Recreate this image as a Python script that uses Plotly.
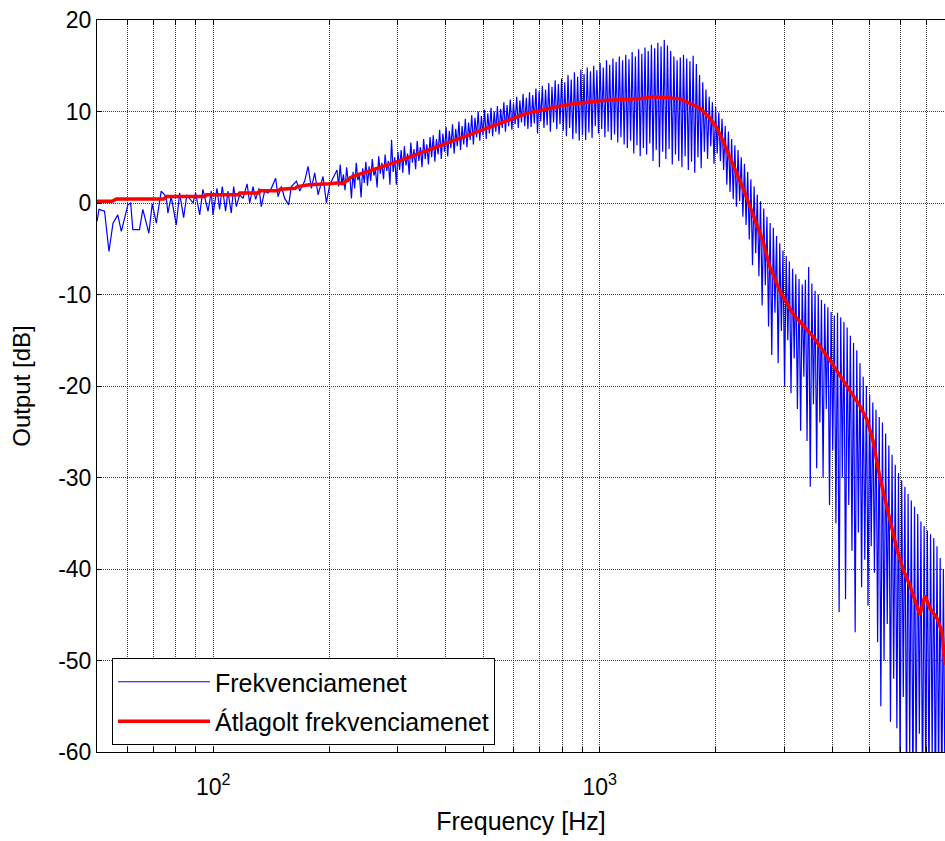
import numpy as np
import plotly.graph_objects as go

# ---------------- data ----------------
# measured response, low-frequency part (explicit points)
low_freq_hz = [50.0, 50.6, 52.3, 53.7, 55.0, 56.6, 57.8, 60.1, 61.1, 61.9,
               64.4, 65.7, 68.1, 69.5, 71.2, 73.3, 75.5, 76.3, 77.8, 80.2,
               81.8, 83.8, 85.4, 88.6, 90.0, 92.2, 94.0, 96.9, 98.8, 99.8,
               102.2, 103.8, 105.5, 107.6, 109.1, 111.3, 112.9, 114.7, 117.0, 119.4,
               122.3, 124.2, 126.7, 128.7, 131.3, 133.1, 135.8, 138.5, 141.3, 145.0,
               147.1, 150.0, 153.0, 156.7, 159.2, 164.1, 167.4, 172.4, 175.9, 179.4,
               183.0, 186.7, 192.3, 196.2, 200.1, 206.2]
low_db = [-2.0, -0.7, -0.9, -5.3, -2.2, -1.3, -3.1, -0.2, 0.0, -2.9,
          -2.9, -0.7, -3.3, -0.1, -2.2, 1.3, 0.7, -1.1, 0.7, -2.4,
          1.1, -1.6, 0.9, 0.0, 1.1, -1.3, 1.5, -0.9, 1.3, -1.3,
          1.6, -0.7, 1.8, -0.9, 1.3, -1.1, 1.8, -0.4, 0.9, 0.5,
          2.1, 0.0, 1.8, 0.4, 1.6, -0.4, 1.3, 1.1, 1.6, 2.7,
          0.7, 1.8, 0.5, -0.2, 1.8, 2.4, 1.3, 2.4, 4.0, 1.6,
          3.3, 0.9, 2.9, 0.0, 2.0, 3.1]

# measured response, dense part on the analyser's log frequency grid
dense_start_hz = 209.0
dense_stop_hz = 7830.0
dense_db = [
    3.6, 1.8, 4.2, 2.0, 3.1, 1.4, 3.9, 2.3, 2.9, 0.5, 3.4, 1.6, 4.4, 2.5, 3.0, 0.6, 3.8, 2.2, 4.5, 1.9,
    4.0, 2.4, 4.8, 3.0, 3.6, 1.7, 5.1, 3.2, 4.4, 2.6, 5.3, 3.5, 4.6, 2.0, 6.9, 3.4, 5.0, 2.0, 5.6, 3.6,
    5.8, 3.3, 6.2, 4.1, 5.4, 3.1, 6.6, 4.4, 5.9, 3.7, 6.8, 4.6, 6.1, 3.9, 7.0, 4.8, 6.4, 4.2, 7.2, 5.0,
    7.4, 4.5, 7.0, 5.3, 8.0, 4.8, 7.6, 5.6, 8.3, 5.1, 7.9, 6.0, 8.6, 5.4, 8.1, 6.2, 8.9, 5.8, 8.4, 6.4,
    9.2, 6.1, 8.8, 6.9, 9.6, 6.4, 9.3, 7.2, 10.0, 6.8, 9.5, 7.4, 10.2, 7.0, 9.8, 7.6, 10.4, 7.3, 10.0, 7.8,
    10.6, 7.5, 10.3, 8.2, 11.0, 7.8, 10.7, 8.4, 11.3, 8.0, 10.9, 8.6, 11.6, 8.2, 11.2, 8.8, 11.9, 8.4, 11.5, 8.1,
    12.1, 8.3, 11.8, 8.7, 12.5, 7.6, 12.2, 8.9, 12.8, 8.2, 12.4, 8.5, 13.1, 7.8, 12.7, 8.8, 13.4, 8.1, 13.0, 8.6,
    13.6, 7.9, 13.2, 7.3, 14.0, 8.2, 13.5, 7.0, 14.3, 7.6, 13.8, 6.8, 14.6, 7.4, 14.1, 6.9, 14.8, 7.7, 14.4, 7.1,
    15.0, 8.4, 14.5, 7.6, 15.3, 8.1, 14.8, 7.2, 15.6, 7.8, 15.1, 6.9, 15.8, 7.5, 15.4, 6.6, 16.0, 7.2, 15.6, 6.4,
    16.2, 6.0, 15.7, 6.8, 16.5, 5.4, 16.0, 6.3, 16.8, 5.1, 16.3, 6.0, 17.0, 5.3, 16.6, 6.5, 17.3, 4.6, 16.9, 5.8,
    17.5, 3.9, 17.1, 5.6, 17.8, 4.8, 17.2, 5.9, 16.6, 4.2, 16.0, 5.3, 15.6, 4.6, 15.9, 3.9, 16.2, 5.1, 15.8, 3.6,
    15.5, 4.5, 16.1, 3.3, 15.2, 5.0, 14.0, 3.8, 13.2, 5.6, 12.4, 4.8, 11.6, 6.2, 11.0, 4.3, 10.5, 5.4, 9.9, 4.6,
    9.2, 3.6, 8.4, 2.0, 7.8, 1.2, 7.0, 0.4, 6.3, -0.4, 5.8, 0.2, 5.0, -1.5, 4.3, -2.4, 3.4, -4.0, 2.6, -6.8,
    1.8, -5.5, 0.9, -8.0, 0.2, -11.2, -0.6, -9.0, -1.5, -13.5, -2.2, -16.6, -2.7, -12.0, -3.6, -17.5, -4.4, -14.0, -5.2, -20.0,
    -5.8, -15.0, -6.4, -20.8, -7.2, -17.0, -7.8, -22.5, -8.3, -24.9, -8.9, -19.0, -8.4, -26.0, -7.0, -31.0, -8.8, -22.0, -9.6, -29.0,
    -10.0, -24.0, -10.6, -30.0, -11.0, -22.5, -11.4, -33.0, -11.9, -27.0, -12.3, -35.0, -12.0, -44.7, -12.5, -30.0, -13.0, -43.3, -13.6, -33.0,
    -14.5, -38.0, -15.3, -46.9, -16.1, -36.0, -17.5, -42.0, -19.0, -39.0, -20.0, -44.0, -21.0, -37.5, -21.8, -40.4, -22.6, -48.0, -23.4, -55.0,
    -24.0, -50.0, -25.2, -46.0, -26.5, -56.7, -27.5, -52.0, -28.6, -57.4, -29.5, -62.0, -30.3, -54.0, -31.0, -64.0, -31.8, -60.5, -32.5, -65.0,
    -33.2, -63.0, -34.0, -58.0, -34.8, -66.0, -35.3, -62.0, -35.8, -64.0, -36.2, -61.0, -36.6, -67.0, -37.5, -63.0, -38.8, -66.0, -40.0, -65.0,
]

# averaged response
avg_freq_hz = [50.0, 54.7, 56.1, 74.5, 75.5, 95.0, 96.0, 116.0, 117.0, 131.0,
               132.0, 147.0, 149.0, 163.0, 165.0, 177.0, 200.0, 212.0, 216.0, 229.0,
               298.0, 401.0, 510.0, 647.0, 836.0, 1018.0, 1269.0, 1372.0, 1612.0, 1712.0,
               1815.0, 1927.0, 2010.0, 2083.0, 2210.0, 2345.0, 2490.0, 2643.0, 2758.0, 2926.0,
               3164.0, 3565.0, 3945.0, 4365.0, 4720.0, 4919.0, 5100.0, 5310.0, 5636.0, 5875.0,
               6095.0, 6350.0, 6620.0, 6740.0, 6950.0, 7160.0, 7470.0, 7690.0, 7830.0]
avg_db = [0.2, 0.2, 0.45, 0.45, 0.7, 0.7, 0.9, 0.9, 1.1, 1.1,
          1.35, 1.35, 1.5, 1.6, 1.8, 2.0, 2.1, 2.2, 2.1, 2.9,
          4.5, 6.5, 8.2, 9.8, 10.8, 11.2, 11.4, 11.6, 11.4, 10.9,
          10.4, 9.3, 8.2, 6.8, 4.2, 1.7, -1.2, -4.1, -7.0, -9.6,
          -12.1, -14.6, -17.2, -20.0, -22.2, -23.7, -26.0, -30.0, -34.6, -37.8,
          -40.0, -41.8, -44.0, -45.0, -42.9, -44.3, -45.4, -46.9, -50.5]

series_names = ["Frekvenciamenet", "Átlagolt frekvenciamenet"]

x_major_ticks = [100, 1000]
x_major_labels = ["10<sup>2</sup>", "10<sup>3</sup>"]
x_minor_ticks = [50, 60, 70, 80, 90, 200, 300, 400, 500, 600, 700, 800, 900,
                 2000, 3000, 4000, 5000, 6000, 7000]
y_tick_values = [-60, -50, -40, -30, -20, -10, 0, 10, 20]
y_tick_labels = ["-60", "-50", "-40", "-30", "-20", "-10", "0", "10", "20"]

x_limits_hz = [50, 7830]
y_limits_db = [-60, 20]

# ---------------- figure ----------------
dense_freq_hz = np.geomspace(dense_start_hz, dense_stop_hz, len(dense_db))
blue_freq = list(low_freq_hz) + list(dense_freq_hz)
blue_db = list(low_db) + list(dense_db)

FONT = "Liberation Sans, Arial, sans-serif"

fig = go.Figure()
fig.add_trace(go.Scatter(
    x=blue_freq, y=blue_db, mode="lines", name=series_names[0],
    line=dict(color="#0000FF", width=1.2), legendgroup="a",
))
fig.add_trace(go.Scatter(
    x=avg_freq_hz, y=avg_db, mode="lines", name=series_names[1],
    line=dict(color="#FF0000", width=3.5), legendgroup="b",
))

grid_col = "rgba(40,40,40,0.9)"
fig.update_layout(
    width=945, height=841,
    margin=dict(l=97, r=0, t=20, b=89),
    paper_bgcolor="white", plot_bgcolor="white",
    font=dict(family=FONT, size=23, color="black"),
    showlegend=True,
    legend=dict(
        x=(112 - 97) / 848, y=(752 - 658) / 732, xanchor="left", yanchor="top",
        bgcolor="white", bordercolor="black", borderwidth=1,
        font=dict(family=FONT, size=25, color="black"),
        itemwidth=92, tracegroupgap=4,
    ),
    xaxis=dict(
        type="log", range=[np.log10(x_limits_hz[0]), np.log10(x_limits_hz[1])],
        tickmode="array", tickvals=x_major_ticks, ticktext=x_major_labels,
        ticks="inside", ticklen=5, tickcolor="black", tickwidth=1,
        minor=dict(tickmode="array", tickvals=x_minor_ticks, ticks="inside",
                   ticklen=5, tickcolor="black", tickwidth=1,
                   showgrid=True, gridcolor=grid_col, gridwidth=1, griddash="1px,1px"),
        showline=True, linecolor="black", linewidth=1, mirror="allticks",
        showgrid=True, gridcolor=grid_col, gridwidth=1, griddash="1px,1px",
        zeroline=False, ticklabelstandoff=14,
        tickfont=dict(family=FONT, size=23),
        title=dict(text="Frequency [Hz]", font=dict(family=FONT, size=25), standoff=13),
    ),
    yaxis=dict(
        range=y_limits_db, tickmode="array", tickvals=y_tick_values,
        ticktext=y_tick_labels,
        ticks="inside", ticklen=5, tickcolor="black", tickwidth=1,
        showline=True, linecolor="black", linewidth=1, mirror=False,
        showgrid=True, gridcolor=grid_col, gridwidth=1, griddash="1px,1px",
        zeroline=False,
        tickfont=dict(family=FONT, size=23),
        title=dict(text="Output [dB]", font=dict(family=FONT, size=24), standoff=20),
    ),
)

fig.write_html("out.html")
